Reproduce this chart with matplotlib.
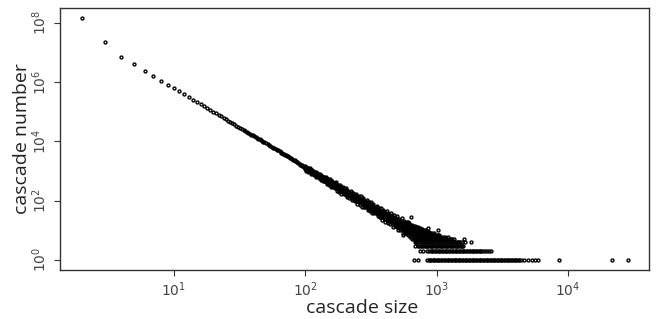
import matplotlib.pyplot as plt
import numpy as np
from matplotlib.ticker import FixedLocator, FuncFormatter, NullLocator

plt.rcParams['mathtext.fontset'] = 'custom'
plt.rcParams['mathtext.rm'] = 'Liberation Sans'

# cascade sizes 2..50, one point each
head_sizes = list(range(2, 51))
head_counts = [144000000, 22000000, 7100000, 4000000, 2300000, 1600000, 1070000,
               790000, 610000, 479000, 380000, 308000, 253000, 211000, 178000,
               151000, 130000, 112000, 98000, 86000, 76000, 68000, 60500, 54000,
               49000, 44000, 40000, 36700, 33500, 30700, 28300, 26000, 24000,
               22300, 20700, 19200, 17900, 16700, 15600, 14700, 13800, 12900,
               12200, 11500, 10800, 10200, 9660, 9140, 8670]

tail_sizes = [52, 53, 54, 56, 57, 58, 60, 61, 62, 64, 65, 66, 68, 69, 70, 72, 73,
              74, 76, 77, 78, 80, 81, 83, 84, 86, 87, 89, 91, 92, 94, 95, 97, 98, 99]
tail_counts = [7820, 7550, 7070, 6410, 6000, 5840, 5340, 5150, 4900, 4500, 4300,
               4020, 3840, 3700, 3480, 3300, 3150, 3070, 2860, 2780, 2670, 2490,
               2330, 2260, 2180, 2000, 1930, 1800, 1720, 1620, 1540, 1480, 1430,
               1350, 1330]

# noisy band 100..600: upper, middle and lower part of the scatter
band_sizes = [100, 102, 104, 106, 108, 110, 113, 115, 117, 120, 122, 124, 127, 129,
              132, 135, 137, 140, 143, 146, 149, 152, 155, 158, 161, 164, 168, 171,
              175, 178, 182, 185, 189, 193, 197, 201, 205, 209, 213, 217, 222, 226,
              231, 235, 240, 245, 250, 255, 260, 265, 270, 276, 281, 287, 293, 299,
              305, 311, 317, 323, 330, 336, 343, 350, 357, 364, 371, 379, 386, 394,
              402, 410, 418, 427, 435, 444, 453, 462, 471, 480, 490, 500, 510, 520,
              530, 541, 552, 563, 574, 586, 597]
band_hi = [1486, 1287, 1294, 1123, 1231, 1071, 1056, 921, 930, 935,
           807, 822, 699, 808, 675, 693, 591, 599, 625, 516,
           529, 440, 524, 430, 452, 371, 382, 407, 326, 341,
           275, 346, 275, 290, 232, 244, 256, 206, 216, 173,
           217, 174, 184, 147, 155, 165, 129, 137, 108, 141,
           111, 117, 92, 98, 106, 81, 88, 68, 90, 69,
           75, 58, 62, 67, 51, 56, 43, 58, 44, 48,
           36, 39, 44, 33, 36, 27, 38, 28, 32, 23,
           26, 29, 21, 24, 17, 26, 18, 21, 15, 17, 19]
band_mid = [1259, 1195, 1135, 1102, 1026, 977, 910, 884, 830, 776,
            743, 711, 668, 629, 603, 568, 547, 516, 497, 461,
            437, 415, 394, 365, 356, 339, 318, 311, 286, 273,
            257, 247, 228, 220, 209, 198, 188, 183, 170, 162,
            152, 145, 137, 128, 124, 117, 111, 105, 103, 95,
            91, 85, 81, 75, 73, 69, 66, 62, 61, 56,
            53, 51, 48, 46, 43, 42, 39, 37, 35, 33,
            32, 30, 29, 27, 26, 24, 23, 22, 21, 21,
            19, 18, 17, 16, 15, 14, 14, 13, 12, 12, 11]
band_lo = [1149, 1013, 1074, 931, 953, 801, 875, 762, 741, 699,
           617, 668, 557, 585, 479, 541, 460, 445, 424, 360,
           402, 329, 352, 281, 336, 276, 265, 260, 213, 248,
           198, 217, 166, 206, 165, 161, 158, 132, 153, 122,
           132, 101, 127, 102, 99, 97, 79, 94, 73, 81,
           61, 79, 61, 61, 59, 48, 58, 44, 50, 37,
           49, 37, 37, 37, 29, 36, 27, 31, 22, 30,
           23, 23, 22, 17, 22, 16, 19, 13, 19, 14,
           14, 13, 10, 14, 10, 11, 8, 11, 8, 8, 8]

# neighbouring sizes in the same band
band2_sizes = [101, 103, 105, 107, 109, 111, 114, 116, 118, 121, 123, 125, 128, 130,
               133, 136, 138, 141, 144, 147, 150, 153, 156, 159, 162, 165, 169, 172,
               176, 179, 183, 186, 190, 194, 198, 202, 206, 210, 214, 218, 223, 227,
               232, 236, 241, 246, 251, 256, 261, 266, 271, 277, 282, 288, 294, 300,
               306, 312, 318, 324, 331, 337, 344, 351, 358, 365, 372, 380, 387, 395,
               403, 411, 419, 428, 436, 445, 454, 463, 472, 481, 491, 501, 511, 521,
               531, 542, 553, 564, 575, 587, 598]
band2_hi = [1368, 1240, 1212, 1112, 1124, 1023, 980, 902, 879, 852,
            774, 764, 683, 713, 638, 627, 569, 556, 557, 488,
            481, 427, 454, 396, 401, 355, 349, 356, 305, 305,
            266, 292, 250, 253, 220, 220, 219, 194, 192, 167,
            182, 159, 159, 137, 139, 139, 120, 120, 105, 116,
            100, 100, 86, 86, 88, 75, 76, 65, 74, 62,
            63, 54, 55, 56, 47, 48, 41, 46, 39, 40,
            34, 34, 36, 30, 31, 25, 30, 25, 26, 22,
            22, 23, 19, 20, 16, 19, 16, 17, 13, 14, 14]
band2_lo = [1203, 1100, 1104, 1013, 989, 885, 892, 821, 784, 736,
            677, 689, 610, 607, 537, 554, 502, 479, 459, 407,
            419, 369, 372, 320, 346, 306, 290, 284, 247, 260,
            226, 232, 195, 213, 186, 179, 172, 155, 161, 141,
            142, 121, 132, 114, 111, 107, 94, 99, 87, 88,
            75, 82, 70, 68, 66, 58, 62, 52, 55, 46,
            51, 43, 42, 41, 35, 39, 32, 34, 28, 31,
            27, 26, 25, 21, 24, 20, 21, 17, 20, 17,
            16, 15, 13, 15, 12, 12, 11, 12, 10, 10, 9]

# sizes found at small counts (rows)
sizes_c1 = [670, 725, 850, 870, 890, 910, 935, 955, 980, 1000, 1025, 1050, 1080,
            1105, 1130, 1160, 1190, 1220, 1250, 1280, 1310, 1345, 1380, 1410, 1445,
            1480, 1520, 1555, 1595, 1635, 1675, 1715, 1760, 1800, 1845, 1890, 1940,
            1985, 2035, 2085, 2140, 2190, 2245, 2300, 2360, 2420, 2480, 2540, 2600,
            2670, 2735, 2800, 2870, 2940, 3015, 3090, 3165, 3245, 3325, 3410, 3495,
            3580, 3670, 3760, 3855, 3950, 4050, 4150, 4250, 4400, 4600, 5000, 5300,
            5600, 5900, 8600, 21500, 28500]
sizes_c2 = [745, 790, 850, 870, 900, 922, 945, 970, 994, 1020, 1045, 1070, 1097,
            1125, 1153, 1180, 1210, 1240, 1272, 1305, 1337, 1370, 1405, 1440, 1476,
            1513, 1550, 1590, 1630, 1670, 1712, 1755, 1800, 1845, 1890, 1937, 1985,
            2035, 2085, 2140, 2190, 2245, 2330, 2420, 2500, 2580]
sizes_c3 = [690, 720, 740, 760, 775, 790, 810, 830, 850, 865, 885, 905, 925, 945,
            965, 985, 1010, 1030, 1055, 1075, 1100, 1125, 1150, 1175, 1200, 1225,
            1255, 1280, 1310, 1340, 1370, 1400, 1430, 1460, 1495, 1530, 1565, 1600]
sizes_c4 = [680, 700, 715, 735, 755, 770, 790, 810, 830, 850, 870, 890, 910, 930,
            955, 975, 1000, 1020, 1045, 1070, 1095, 1120, 1145, 1170, 1200, 1230,
            1260, 1290, 1320, 1350, 1385, 1420, 1455, 1490, 1520, 1550, 1640, 1820]
sizes_c5 = [650, 668, 685, 702, 720, 738, 756, 775, 795, 815, 835, 856, 877, 899,
            921, 944, 968, 992, 1017, 1042, 1068, 1095, 1122, 1150, 1180, 1210,
            1245, 1280, 1315, 1350, 1606]
sizes_c6 = [630, 645, 662, 678, 695, 712, 730, 748, 767, 786, 805, 825, 846, 867,
            889, 911, 934, 957, 981, 1005, 1030, 1056, 1082, 1110, 1150, 1213]
sizes_c7 = [560, 610, 625, 640, 656, 672, 689, 706, 724, 742, 760, 779, 798, 818,
            839, 860, 881, 903, 926, 950, 975, 1000, 1025, 1050]
sizes_c8 = [600, 615, 630, 646, 662, 678, 695, 712, 730, 748, 767, 786, 806, 826,
            847, 868, 890, 915, 950]
sizes_c9 = [605, 620, 636, 652, 668, 685, 702, 720, 738, 756, 775, 795, 815, 836,
            858, 880]
sizes_c10 = [602, 618, 634, 650, 666, 683, 700, 718, 736, 754, 773, 792, 811, 830,
             1017]
sizes_c11 = [608, 624, 640, 656, 673, 690, 707, 725, 743, 762, 780]
sizes_c12 = [603, 620, 637, 654, 671, 689, 707, 725, 745, 857]

extra_sizes = [610, 628, 646, 665, 684, 703, 720, 606, 624, 642, 660, 680, 612, 632,
               650, 604, 622, 600, 615, 608, 603, 634, 374, 407]
extra_counts = [13, 13, 13, 13, 13, 13, 13, 14, 14, 14, 14, 14, 15, 15,
                15, 16, 16, 17, 17, 18, 19, 27, 28, 19]

rows = [sizes_c1, sizes_c2, sizes_c3, sizes_c4, sizes_c5, sizes_c6, sizes_c7,
        sizes_c8, sizes_c9, sizes_c10, sizes_c11, sizes_c12]

xs = (head_sizes + tail_sizes + band_sizes * 3 + band2_sizes * 2 + extra_sizes)
ys = (head_counts + tail_counts + band_hi + band_mid + band_lo
      + band2_hi + band2_lo + extra_counts)
for k, row in enumerate(rows, start=1):
    xs += row
    ys += [k] * len(row)

fig = plt.figure(figsize=(6.59, 3.19), dpi=100)
ax = fig.add_axes([60 / 659, (319 - 269.5) / 319, 589 / 659, 261.5 / 319])

ax.plot(xs, ys, 'o', ms=2.1, mfc='none', mec='black', mew=1.0, linestyle='none')

ax.set_xscale('log')
ax.set_yscale('log')
ax.set_xlim(10 ** 0.135, 10 ** 4.616)
ax.set_ylim(10 ** -0.326, 10 ** 8.49)

ax.xaxis.set_major_locator(FixedLocator([1e1, 1e2, 1e3, 1e4]))
ax.yaxis.set_major_locator(FixedLocator([1e0, 1e2, 1e4, 1e6, 1e8]))
ax.xaxis.set_minor_locator(NullLocator())
ax.yaxis.set_minor_locator(NullLocator())
fmt = FuncFormatter(lambda v, pos: r'$\mathregular{10^{%d}}$' % round(np.log10(v)))
ax.xaxis.set_major_formatter(fmt)
ax.yaxis.set_major_formatter(fmt)

for s in ax.spines.values():
    s.set_color('#333333')
    s.set_linewidth(1.0)
ax.tick_params(direction='out', length=4, width=0.8, color='#333333',
               labelcolor='#444444', labelsize=10, pad=4)
for lbl in ax.get_yticklabels():
    lbl.set_rotation(90)
    lbl.set_va('center')

fig.text(362 / 659, 1 - 308 / 319, 'cascade size', ha='center', va='center',
         fontsize=14, family='Open Sans', color='#222222')
fig.text(22 / 659, 1 - 138.5 / 319, 'cascade number', ha='center', va='center',
         rotation=90, fontsize=14, family='Open Sans', color='#222222')

fig.savefig('out.png', dpi=100)
